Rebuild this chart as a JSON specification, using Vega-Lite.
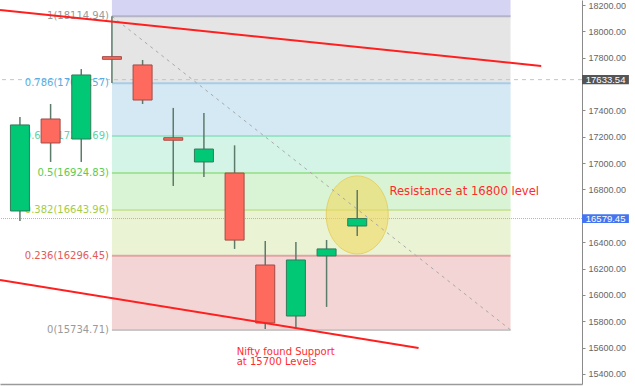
{
  "$schema": "https://vega.github.io/schema/vega-lite/v6.json",
  "width": 582,
  "height": 384,
  "autosize": {"type": "none"},
  "padding": {"left": 0, "top": 0, "right": 53, "bottom": 2},
  "background": "white",
  "config": {"view": {"stroke": null}},
  "datasets": {
    "bands": [
      {"band": "ext", "x": 4, "x2": 17, "lo": 18114.94, "hi": 18238},
      {"band": "1-0.786", "x": 4, "x2": 17, "lo": 17605.57, "hi": 18114.94},
      {"band": "0.786-0.618", "x": 4, "x2": 17, "lo": 17205.69, "hi": 17605.57},
      {"band": "0.618-0.5", "x": 4, "x2": 17, "lo": 16924.83, "hi": 17205.69},
      {"band": "0.5-0.382", "x": 4, "x2": 17, "lo": 16643.96, "hi": 16924.83},
      {"band": "0.382-0.236", "x": 4, "x2": 17, "lo": 16296.45, "hi": 16643.96},
      {"band": "0.236-0", "x": 4, "x2": 17, "lo": 15734.71, "hi": 16296.45}
    ],
    "levels": [
      {"level": "1", "x": 4, "x2": 17, "y": 18114.94, "label": "1(18114.94)"},
      {"level": "0.786", "x": 4, "x2": 17, "y": 17605.57, "label": "0.786(17605.57)"},
      {"level": "0.618", "x": 4, "x2": 17, "y": 17205.69, "label": "0.618(17205.69)"},
      {"level": "0.5", "x": 4, "x2": 17, "y": 16924.83, "label": "0.5(16924.83)"},
      {"level": "0.382", "x": 4, "x2": 17, "y": 16643.96, "label": "0.382(16643.96)"},
      {"level": "0.236", "x": 4, "x2": 17, "y": 16296.45, "label": "0.236(16296.45)"},
      {"level": "0", "x": 4, "x2": 17, "y": 15734.71, "label": "0(15734.71)"}
    ],
    "candles": [
      {"x": 1, "open": 16637, "high": 17350, "low": 16561, "close": 17290, "dir": "up"},
      {"x": 2, "open": 17335, "high": 17449, "low": 17009, "close": 17153, "dir": "down"},
      {"x": 3, "open": 17183, "high": 17714, "low": 17009, "close": 17669, "dir": "up"},
      {"x": 4, "open": 17808, "high": 18115, "low": 17608, "close": 17788, "dir": "down"},
      {"x": 5, "open": 17745, "high": 17783, "low": 17449, "close": 17479, "dir": "down"},
      {"x": 6, "open": 17193, "high": 17419, "low": 16827, "close": 17174, "dir": "down"},
      {"x": 7, "open": 17009, "high": 17381, "low": 16895, "close": 17107, "dir": "up"},
      {"x": 8, "open": 16925, "high": 17135, "low": 16349, "close": 16416, "dir": "down"},
      {"x": 9, "open": 16227, "high": 16409, "low": 15742, "close": 15787, "dir": "down"},
      {"x": 10, "open": 15840, "high": 16402, "low": 15749, "close": 16265, "dir": "up"},
      {"x": 11, "open": 16296, "high": 16417, "low": 15909, "close": 16349, "dir": "up"},
      {"x": 12, "open": 16523, "high": 16796, "low": 16447, "close": 16579.45, "dir": "up"}
    ],
    "trend": [
      {"line": "top", "x": 0.35, "y": 18162},
      {"line": "top", "x": 18, "y": 17737},
      {"line": "bottom", "x": 0.35, "y": 16114},
      {"line": "bottom", "x": 14, "y": 15598}
    ],
    "diag": [
      {"x": 4, "y": 18114.94},
      {"x": 17, "y": 15734.71}
    ],
    "zone": [
      {"x": 12, "y": 16607}
    ],
    "notes": [
      {"x": 13.05, "y": 16781, "text": "Resistance at 16800 level", "size": "big"},
      {"x": 8.07, "y": 15567, "text": "Nifty found Support", "size": "small"},
      {"x": 8.07, "y": 15491, "text": " at 15700 Levels", "size": "small"}
    ],
    "tags": [
      {"tag": "last", "x": 19.33, "x2": 20.86, "lo": 17598, "hi": 17669, "y": 17633.54, "xt": 20.1, "label": "17633.54"},
      {"tag": "cur", "x": 19.33, "x2": 20.86, "lo": 16546, "hi": 16613, "y": 16579.45, "xt": 20.1, "label": "16579.45"}
    ]
  },
  "resolve": {"scale": {"color": "independent", "fill": "independent", "stroke": "independent"}},
  "layer": [
    {
      "data": {"name": "bands"},
      "mark": {"type": "rect"},
      "encoding": {
        "x": {"field": "x", "type": "quantitative",
              "scale": {"domain": [0.35, 19.33], "nice": false, "zero": false, "padding": 0},
              "axis": {"orient": "bottom", "labels": false, "ticks": false, "grid": false, "title": null, "domainColor": "#9a9a9a", "domainWidth": 1.5}},
        "x2": {"field": "x2"},
        "y": {"field": "lo", "type": "quantitative",
              "scale": {"domain": [15324, 18238], "nice": false, "zero": false, "padding": 0},
              "axis": {"orient": "right", "values": [15400, 15600, 15800, 16000, 16200, 16400, 16800, 17000, 17200, 17400, 17800, 18000, 18200],
                       "tickCount": 30,
                       "format": ".2f", "grid": false, "title": null, "domainColor": "#8a8a8a", "tickColor": "#8a8a8a", "tickSize": 3,
                       "labelOverlap": false, "labelBound": false,
                       "labelFont": "Liberation Sans", "labelFontSize": 9, "labelColor": "#666666", "labelPadding": 3}},
        "y2": {"field": "hi"},
        "fill": {"field": "band", "type": "nominal", "legend": null,
                 "scale": {"domain": ["ext", "1-0.786", "0.786-0.618", "0.618-0.5", "0.5-0.382", "0.382-0.236", "0.236-0"],
                           "range": ["#d5d5f3", "#e5e5e5", "#d5e9f4", "#d5f4e8", "#d9f4d4", "#eaf4d4", "#f4d5d5"]}}
      }
    },
    {
      "data": {"name": "levels"},
      "mark": {"type": "rule", "strokeWidth": 2},
      "encoding": {
        "x": {"field": "x", "type": "quantitative"},
        "x2": {"field": "x2"},
        "y": {"field": "y", "type": "quantitative"},
        "stroke": {"field": "level", "type": "nominal", "legend": null,
                   "scale": {"domain": ["1", "0.786", "0.618", "0.5", "0.382", "0.236", "0"],
                             "range": ["#b4b4c6", "#a6cde8", "#9be4c6", "#a2e49c", "#cde49c", "#e3a3a3", "#c8c8c8"]}}
      }
    },
    {
      "data": {"values": [{"y": 17633.54}]},
      "mark": {"type": "rule", "stroke": "#c4c4c4", "strokeWidth": 1, "strokeDash": [4, 4]},
      "encoding": {"y": {"field": "y", "type": "quantitative"}}
    },
    {
      "data": {"values": [{"y": 16579.45}]},
      "mark": {"type": "rule", "stroke": "#9fb2f2", "strokeWidth": 1, "strokeDash": [1, 1]},
      "encoding": {"y": {"field": "y", "type": "quantitative"}}
    },
    {
      "data": {"name": "zone"},
      "mark": {"type": "point", "shape": "M -0.795 0 A 0.795 1 0 1 1 0.795 0 A 0.795 1 0 1 1 -0.795 0 Z", "size": 6084, "filled": true, "fill": "#f0d860", "fillOpacity": 0.6, "stroke": "#e2cb5a", "strokeWidth": 1, "strokeOpacity": 0.8},
      "encoding": {
        "x": {"field": "x", "type": "quantitative"},
        "y": {"field": "y", "type": "quantitative"}
      }
    },
    {
      "data": {"name": "diag"},
      "mark": {"type": "line", "stroke": "#a9a9a9", "strokeWidth": 1, "strokeDash": [3, 4]},
      "encoding": {
        "x": {"field": "x", "type": "quantitative"},
        "y": {"field": "y", "type": "quantitative"}
      }
    },
    {
      "data": {"name": "levels"},
      "mark": {"type": "text", "align": "right", "baseline": "middle", "dx": -3, "font": "DejaVu Sans", "fontSize": 10},
      "encoding": {
        "x": {"field": "x", "type": "quantitative"},
        "y": {"field": "y", "type": "quantitative"},
        "text": {"field": "label"},
        "color": {"field": "level", "type": "nominal", "legend": null,
                  "scale": {"domain": ["1", "0.786", "0.618", "0.5", "0.382", "0.236", "0"],
                            "range": ["#9a9a9a", "#5aacdf", "#5ed4a8", "#5ccc4e", "#a6cc46", "#e05c5c", "#9a9a9a"]}}
      }
    },
    {
      "data": {"name": "candles"},
      "mark": {"type": "rule", "stroke": "#5b7b6b", "strokeWidth": 1.5},
      "encoding": {
        "x": {"field": "x", "type": "quantitative"},
        "y": {"field": "low", "type": "quantitative"},
        "y2": {"field": "high"}
      }
    },
    {
      "data": {"name": "candles"},
      "mark": {"type": "bar", "size": 19, "strokeWidth": 1},
      "encoding": {
        "x": {"field": "x", "type": "quantitative"},
        "y": {"field": "open", "type": "quantitative"},
        "y2": {"field": "close"},
        "fill": {"field": "dir", "type": "nominal", "legend": null,
                 "scale": {"domain": ["up", "down"], "range": ["#00c875", "#ff6a5e"]}},
        "stroke": {"field": "dir", "type": "nominal", "legend": null,
                   "scale": {"domain": ["up", "down"], "range": ["#2f7c5a", "#a24a44"]}}
      }
    },
    {
      "data": {"name": "trend"},
      "mark": {"type": "line", "stroke": "#ff1f1f", "strokeWidth": 2},
      "encoding": {
        "x": {"field": "x", "type": "quantitative"},
        "y": {"field": "y", "type": "quantitative"},
        "detail": {"field": "line", "type": "nominal"}
      }
    },
    {
      "data": {"name": "notes"},
      "transform": [{"filter": "datum.size === 'big'"}],
      "mark": {"type": "text", "align": "left", "baseline": "middle", "font": "DejaVu Sans", "fontSize": 11.6, "fill": "#ff2b2b"},
      "encoding": {
        "x": {"field": "x", "type": "quantitative"},
        "y": {"field": "y", "type": "quantitative"},
        "text": {"field": "text"}
      }
    },
    {
      "data": {"name": "notes"},
      "transform": [{"filter": "datum.size === 'small'"}],
      "mark": {"type": "text", "align": "left", "baseline": "middle", "font": "DejaVu Sans", "fontSize": 10, "fill": "#ff2b2b"},
      "encoding": {
        "x": {"field": "x", "type": "quantitative"},
        "y": {"field": "y", "type": "quantitative"},
        "text": {"field": "text"}
      }
    },
    {
      "data": {"name": "tags"},
      "mark": {"type": "rect"},
      "encoding": {
        "x": {"field": "x", "type": "quantitative"},
        "x2": {"field": "x2"},
        "y": {"field": "lo", "type": "quantitative"},
        "y2": {"field": "hi"},
        "fill": {"field": "tag", "type": "nominal", "legend": null,
                 "scale": {"domain": ["last", "cur"], "range": ["#555555", "#4474f0"]}}
      }
    },
    {
      "data": {"name": "tags"},
      "mark": {"type": "text", "align": "center", "baseline": "middle", "font": "Liberation Sans", "fontSize": 9.5, "fill": "white"},
      "encoding": {
        "x": {"field": "xt", "type": "quantitative"},
        "y": {"field": "y", "type": "quantitative"},
        "text": {"field": "label"}
      }
    }
  ]
}
